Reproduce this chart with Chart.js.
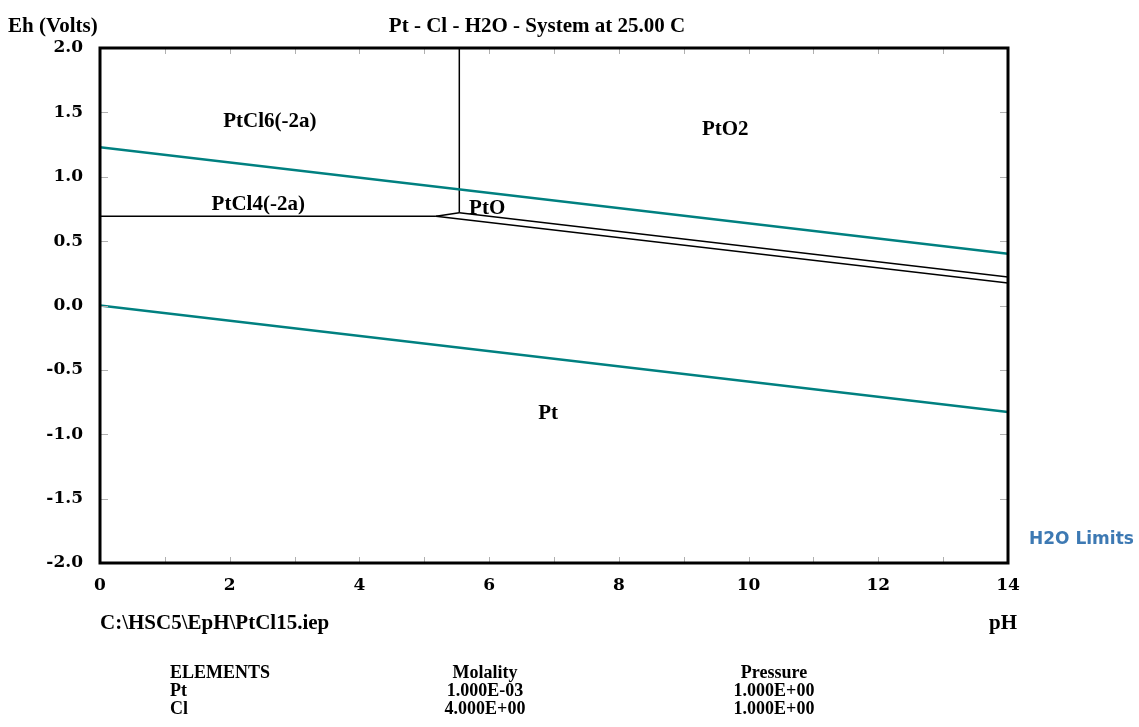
<html lang="en">
<head>
    <meta charset="UTF-8">
    <title>Pt - Cl - H2O</title>
    <script src="https://cdn.jsdelivr.net/npm/chart.js"></script>
    <style>
        body { margin: 0; background: #fff; }
        #wrap { width: 1139px; height: 727px; }
    </style>
</head>
<body>
<div id="wrap"><canvas id="ephChart" width="1139" height="727"></canvas></div>
<script>
// water stability limits
const h2oUpperPH = [0, 14];
const h2oUpperEh = [1.229, 0.401];
const h2oLowerPH = [0, 14];
const h2oLowerEh = [0.0, -0.828];

// phase boundaries (pH, Eh)
const bPtCl4PH = [0, 5.18];
const bPtCl4Eh = [0.694, 0.694];
const bJoinPH = [5.18, 5.54];
const bJoinEh = [0.694, 0.72];
const bVertPH = [5.54, 5.54];
const bVertEh = [0.72, 2.0];
const bPtO2PH = [5.54, 14];
const bPtO2Eh = [0.72, 0.221];
const bPtPH = [5.18, 14];
const bPtEh = [0.694, 0.174];

// species labels
const speciesNames = ['PtCl6(-2a)', 'PtCl4(-2a)', 'PtO2', 'PtO', 'Pt'];
const speciesPH = [2.62, 2.44, 9.64, 5.97, 6.91];
const speciesEh = [1.43, 0.78, 1.37, 0.755, -0.84];

// composition table
const tableHead = ['ELEMENTS', 'Molality', 'Pressure'];
const elements = ['Pt', 'Cl'];
const molality = ['1.000E-03', '4.000E+00'];
const pressure = ['1.000E+00', '1.000E+00'];

const serif = '"Liberation Serif", "Times New Roman", serif';
const tickFont = '"DejaVu Serif", serif';

function pts(xs, ys) {
    return xs.map((x, i) => ({ x: x, y: ys[i] }));
}
function line(xs, ys, color, w) {
    return { data: pts(xs, ys), showLine: true, borderColor: color, borderWidth: w,
             pointRadius: 0, fill: false, tension: 0 };
}

const datasets = [
    line(h2oUpperPH, h2oUpperEh, '#008080', 2.5),
    line(h2oLowerPH, h2oLowerEh, '#008080', 2.5),
    line(bPtCl4PH, bPtCl4Eh, '#000', 1.5),
    line(bJoinPH, bJoinEh, '#000', 1.5),
    line(bVertPH, bVertEh, '#000', 1.5),
    line(bPtO2PH, bPtO2Eh, '#000', 1.5),
    line(bPtPH, bPtEh, '#000', 1.5)
];

// inner tick marks, frame and all the loose texts
const decor = {
    id: 'decor',
    afterDraw(chart) {
        const ctx = chart.ctx;
        const a = chart.chartArea;
        const xs = chart.scales.x, ys = chart.scales.y;
        ctx.save();
        ctx.strokeStyle = '#b0b0b0';
        ctx.lineWidth = 1;
        ctx.beginPath();
        xs.ticks.forEach(t => {
            const px = Math.round(xs.getPixelForValue(t.value)) + 0.5;
            ctx.moveTo(px, a.top); ctx.lineTo(px, a.top + 6);
            ctx.moveTo(px, a.bottom); ctx.lineTo(px, a.bottom - 6);
        });
        ys.ticks.forEach(t => {
            const py = Math.round(ys.getPixelForValue(t.value)) + 0.5;
            ctx.moveTo(a.left, py); ctx.lineTo(a.left + 8, py);
            ctx.moveTo(a.right, py); ctx.lineTo(a.right - 8, py);
        });
        ctx.stroke();

        ctx.strokeStyle = '#000';
        ctx.lineWidth = 3;
        ctx.strokeRect(a.left, a.top, a.right - a.left, a.bottom - a.top);

        ctx.fillStyle = '#000';
        ctx.textBaseline = 'middle';
        ctx.font = 'bold 21px ' + serif;
        ctx.textAlign = 'center';
        speciesNames.forEach((s, i) => {
            ctx.fillText(s, xs.getPixelForValue(speciesPH[i]), ys.getPixelForValue(speciesEh[i]));
        });

        ctx.textAlign = 'left';
        ctx.fillText('Eh (Volts)', 8, 27);
        ctx.textAlign = 'center';
        ctx.fillText('Pt - Cl - H2O - System at 25.00 C', 537, 27);
        ctx.textAlign = 'left';
        ctx.fillText('C:\\HSC5\\EpH\\PtCl15.iep', 100, 624);
        ctx.textAlign = 'right';
        ctx.fillText('pH', 1017, 624);

        ctx.font = 'bold 18px ' + serif;
        ctx.textAlign = 'left';
        ctx.fillText(tableHead[0], 170, 673);
        ctx.textAlign = 'center';
        ctx.fillText(tableHead[1], 485, 673);
        ctx.fillText(tableHead[2], 774, 673);
        elements.forEach((el, i) => {
            const y = 691 + i * 18;
            ctx.textAlign = 'left';
            ctx.fillText(el, 170, y);
            ctx.textAlign = 'center';
            ctx.fillText(molality[i], 485, y);
            ctx.fillText(pressure[i], 774, y);
        });

        ctx.font = 'bold 17px "DejaVu Sans", sans-serif';
        ctx.fillStyle = '#3d79b3';
        ctx.textAlign = 'left';
        ctx.fillText('H2O Limits', 1029, 540);
        ctx.restore();
    }
};

new Chart(document.getElementById('ephChart'), {
    type: 'scatter',
    data: { datasets: datasets },
    options: {
        responsive: false,
        animation: false,
        layout: { padding: { left: 0, top: 48, right: 131, bottom: 124 } },
        plugins: { legend: { display: false }, tooltip: { enabled: false } },
        scales: {
            x: {
                min: 0, max: 14,
                grid: { display: false },
                border: { display: false },
                afterFit(s) { s.height = 40; },
                ticks: {
                    stepSize: 1, autoSkip: false, maxRotation: 0, padding: 4,
                    color: '#000', font: { family: tickFont, size: 17, weight: 'bold' },
                    callback: v => (v % 2 === 0 ? String(v) : '')
                }
            },
            y: {
                min: -2, max: 2,
                grid: { display: false },
                border: { display: false },
                afterFit(s) { s.width = 100; },
                ticks: {
                    stepSize: 0.5, autoSkip: false, padding: 9,
                    color: '#000', font: { family: tickFont, size: 17, weight: 'bold' },
                    callback: v => v.toFixed(1)
                }
            }
        }
    },
    plugins: [decor]
});
</script>
</body>
</html>
